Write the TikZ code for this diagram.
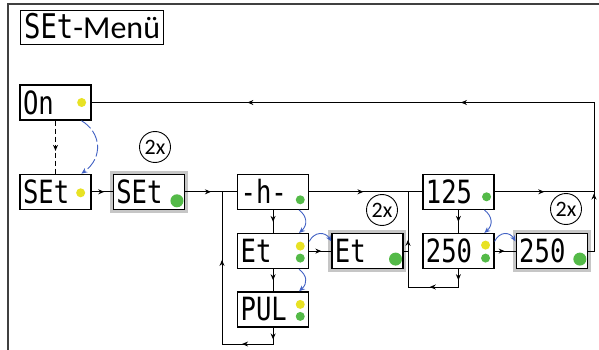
\documentclass[tikz,border=0pt]{standalone}
\usepackage{fontspec}
\setmainfont{Carlito}
\newfontfamily\dispfont[FakeStretch=0.8]{DejaVu Sans Mono}
\usepackage{tikz}
\usetikzlibrary{arrows.meta,positioning,calc,decorations.markings}
\definecolor{ledyellow}{RGB}{232,226,36}
\definecolor{ledgreen}{RGB}{84,186,72}
\definecolor{curvblue}{RGB}{66,98,196}

\begin{document}
\begin{tikzpicture}[
  x=1pt, y=-1pt,
  disp/.style={rectangle, draw, line width=1.3pt, fill=white, minimum height=35pt,
    text width=65pt, inner sep=3pt, align=left, text height=23pt, text depth=0pt,
    font=\dispfont\fontsize{32}{32}\selectfont},
  hl/.style={disp, preaction={draw=gray!45, line width=7pt}},
  twox/.style={circle, draw, line width=0.9pt, minimum size=31pt, inner sep=0pt,
    font=\fontsize{22}{22}\selectfont},
  arr/.style={line width=1pt},
  arrs/.style={postaction={decorate, decoration={markings,
    mark=at position #1 with {\arrow{Stealth[length=6pt,width=5pt]}}}}},
  blu/.style={draw=curvblue, line width=0.9pt, -{Stealth[length=6pt,width=5pt]}},
  ydot/.style={fill=ledyellow},
  gdot/.style={fill=ledgreen}
]
  \fill[white] (0,0) rectangle (599,350);
  \useasboundingbox (0,0) rectangle (599,350);
  \draw[line width=1.5pt, black!75] (8,350) -- (8,4) -- (599,4);

  \node[draw, line width=1.3pt, anchor=north west, minimum height=34pt,
    minimum width=143pt, inner sep=2pt, text height=23pt, text depth=1pt,
    font=\fontsize{32}{32}\selectfont] (title) at (20,10)
    {{\dispfont\fontsize{34}{34}\selectfont SEt}-Menü};

  % displays
  \node[disp] (On) at (55.5,102.5) {On};
  \node[disp, below=53pt of On] (SEt1) {SEt};
  \node[hl, right=21pt of SEt1] (SEt2) {SEt};
  \node[disp, right=52pt of SEt2] (hh) {-h-};
  \node[disp, below=23pt of hh] (Et1) {Et};
  \node[disp, below=22pt of Et1] (PUL) {PUL};
  \node[hl, right=22pt of Et1] (Et2) {Et};
  \node[disp, right=113pt of hh] (n125) {125};
  \node[disp, below=23pt of n125] (n250a) {250};
  \node[hl, right=21pt of n250a] (n250b) {250};

  \node[twox] (rep1) at (155,147) {2x};
  \node[twox] (rep2) at (382,210) {2x};
  \node[twox] (rep3) at (566,209) {2x};

  % leds
  \fill[ydot] ($(On.east)+(-10,0)$) circle (4.5);
  \fill[ydot] ($(SEt1.east)+(-11,1)$) circle (4.5);
  \fill[gdot] ($(SEt2.east)+(-8,9)$) circle (6.5);
  \fill[gdot] ($(hh.east)+(-9,8)$) circle (4.5);
  \fill[ydot] ($(Et1.east)+(-9,-5)$) circle (4.5);
  \fill[gdot] ($(Et1.east)+(-9,7)$) circle (4.5);
  \fill[ydot] ($(PUL.east)+(-9,-5)$) circle (4.5);
  \fill[gdot] ($(PUL.east)+(-9,7)$) circle (4.5);
  \fill[gdot] ($(Et2.east)+(-8,8)$) circle (6.5);
  \fill[gdot] ($(n125.east)+(-8,5)$) circle (4.5);
  \fill[ydot] ($(n250a.east)+(-9,-6)$) circle (4.5);
  \fill[gdot] ($(n250a.east)+(-9,7)$) circle (4.5);
  \fill[gdot] ($(n250b.east)+(-8,8)$) circle (6.5);

  \coordinate (loopA) at (222,344);
  \coordinate (loopB) at (408,287);
  \coordinate (rt) at (594,0);

  % connectors
  \draw[arr, dash pattern=on 5pt off 3pt, arrs=0.57] (On) -- (SEt1);
  \draw[blu, dash pattern=on 12pt off 3pt] (On.-35) .. controls +(20,12) and +(22,-16) .. (SEt1.35);
  \draw[arr, arrs=0.6] (SEt1) -- (SEt2);
  \draw[arr, arrs=0.5] (SEt2) -- (hh);
  \draw[arr, arrs=0.52] (hh) -- (Et1);
  \draw[arr, arrs=0.5] (Et1) -- (PUL);
  \draw[arr, arrs=0.55] (Et1) -- (Et2);
  \draw[blu] (hh.-35) .. controls +(8,6) and +(9,-8) .. (Et1.35);
  \draw[blu] (Et1.-35) .. controls +(8,6) and +(9,-8) .. (PUL.35);
  \draw[blu] (Et1.15) .. controls +(5,-10) and +(-6,-10) .. (Et2.165);
  \draw[arr, arrs=0.054, arrs=0.216, arrs=0.69] (PUL.south) |- (loopA) -- (loopA |- hh.west);
  \draw[arr, arrs=0.48] (hh) -- (n125);
  \draw[arr] (Et2.east) -- (loopB |- Et2.east);
  \draw[arr, arrs=0.52] (n125) -- (n250a);
  \draw[arr, arrs=0.48] (n250a) -- (n250b);
  \draw[blu] (n125.-35) .. controls +(8,6) and +(9,-8) .. (n250a.35);
  \draw[blu] (n250a.15) .. controls +(5,-10) and +(-6,-10) .. (n250b.165);
  \draw[arr, arrs=0.067, arrs=0.284, arrs=0.706] (n250a.south) |- (loopB) -- (loopB |- n125.west);
  \draw[arr, arrs=0.5] (n125.east) -- (rt |- n125.east);
  \draw[arr, arrs=0.097, arrs=0.438, arrs=0.763] (n250b.east) -| (rt |- On.east) -- (On.east);
\end{tikzpicture}
\end{document}
